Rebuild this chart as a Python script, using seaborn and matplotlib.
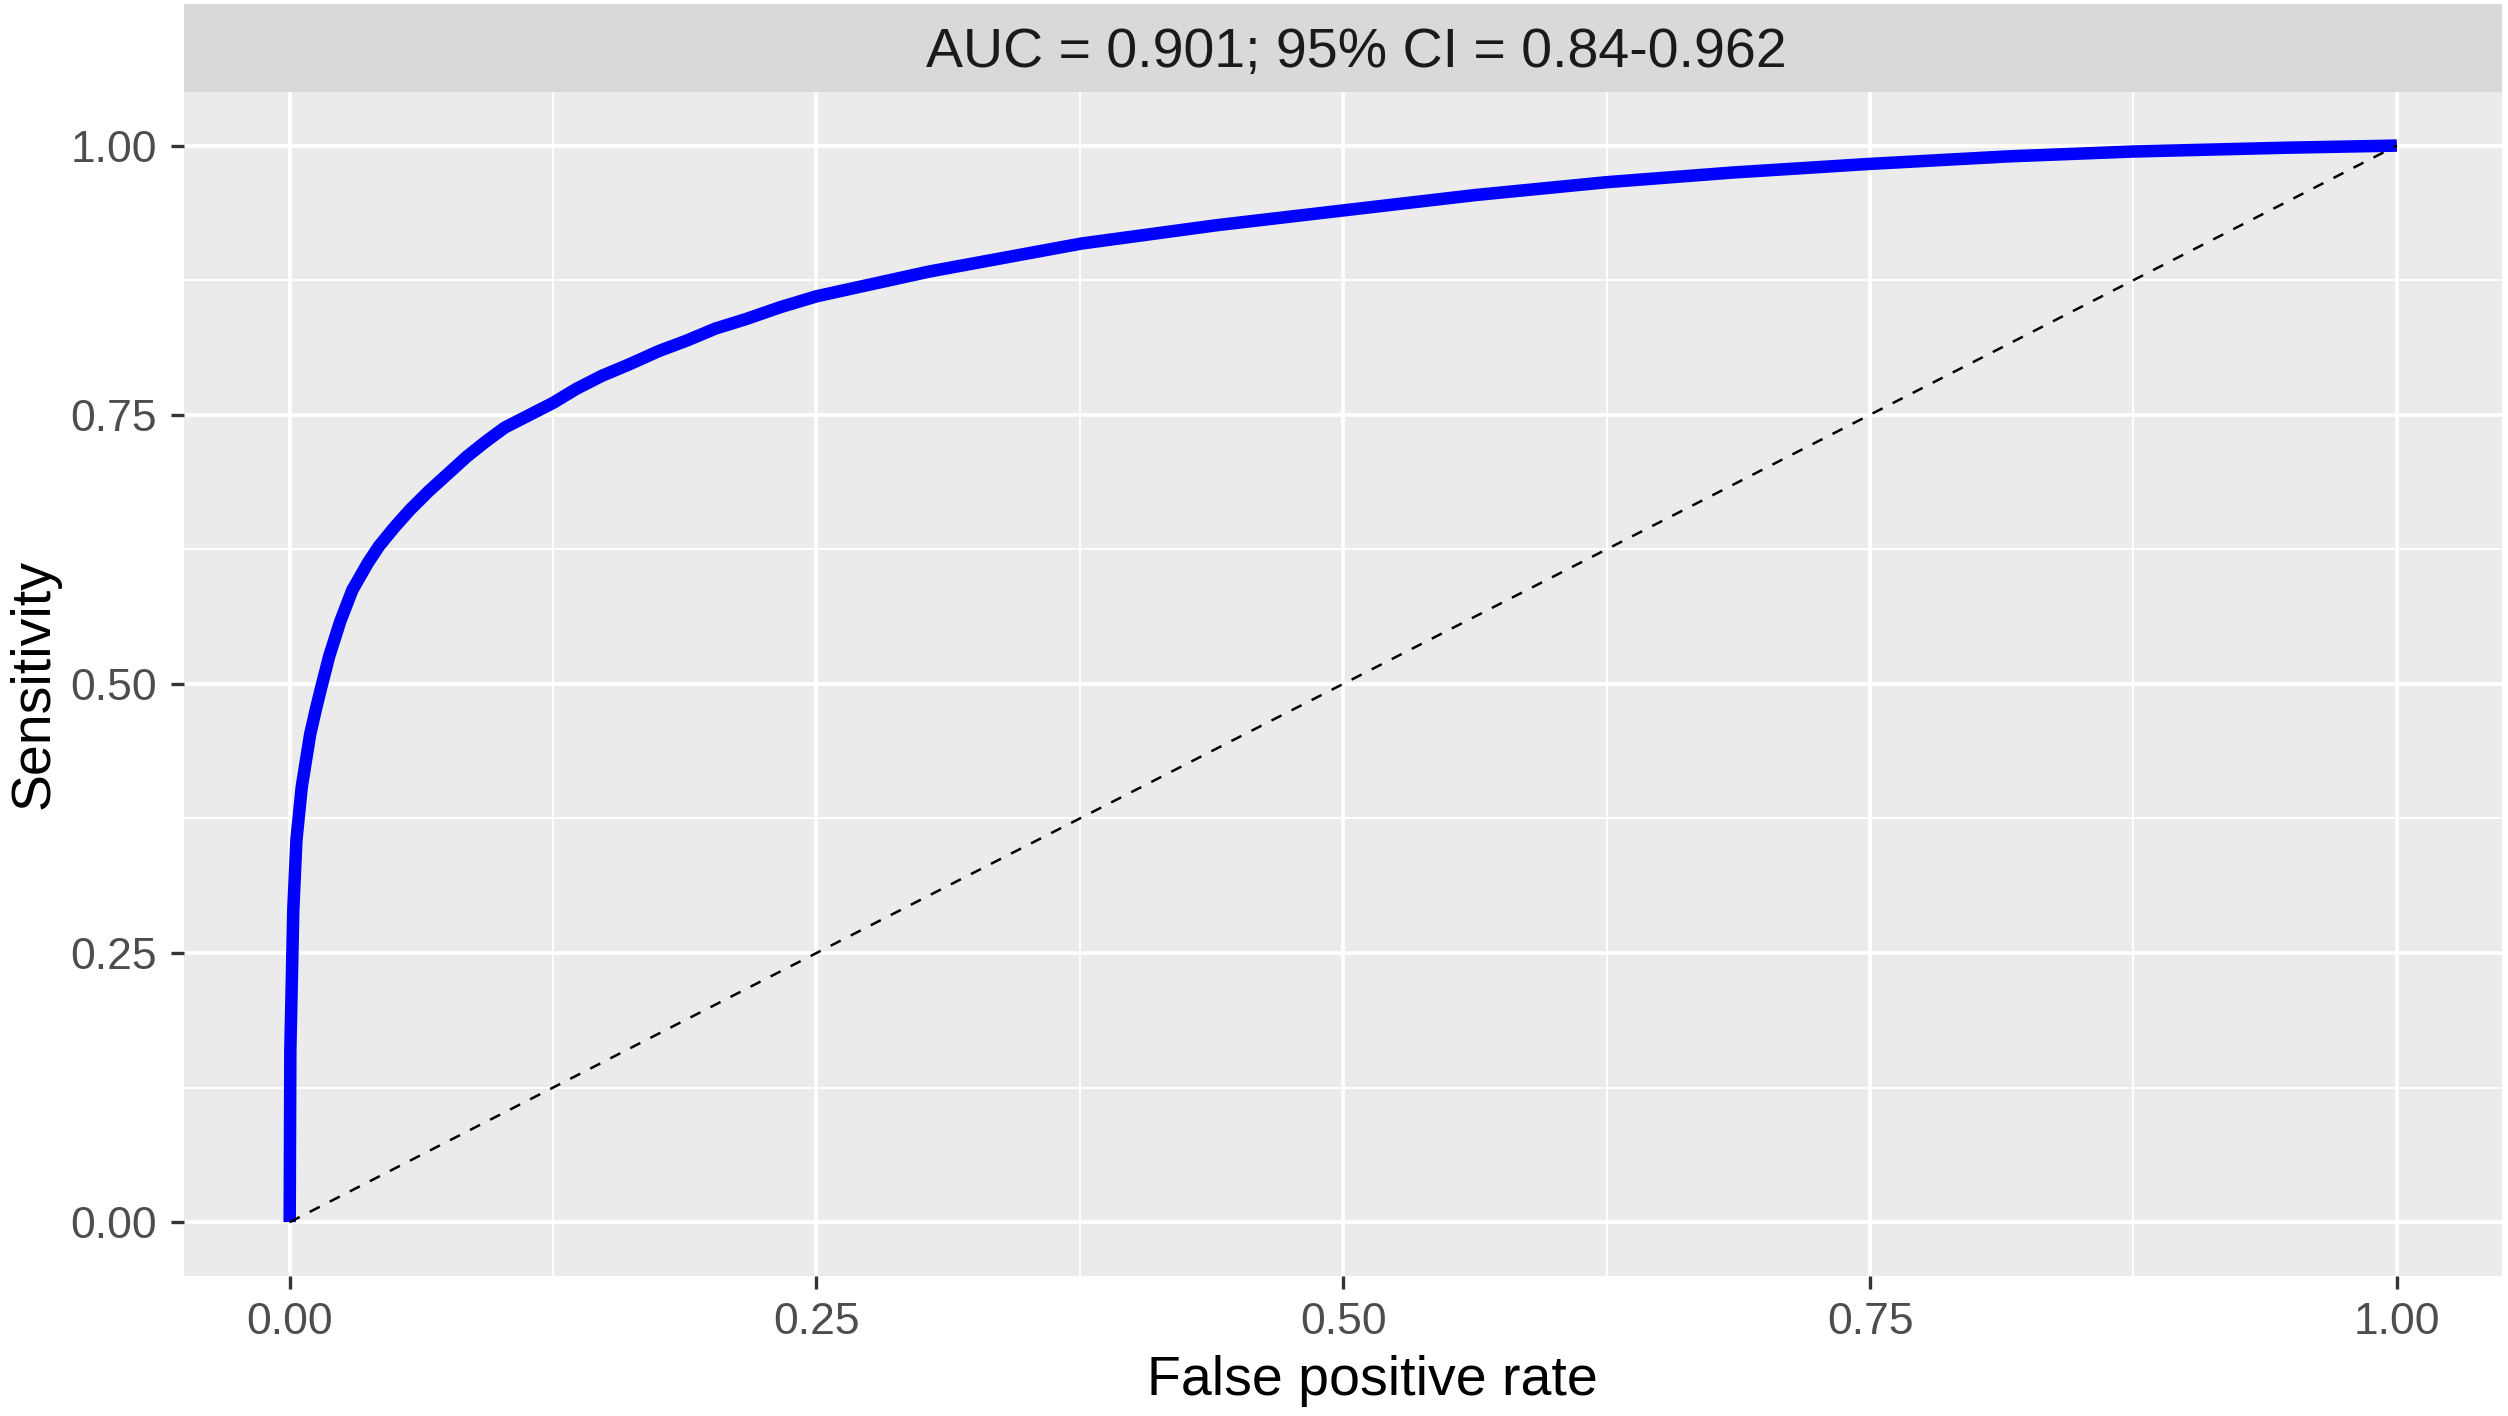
import matplotlib
matplotlib.use("Agg")
import matplotlib.pyplot as plt
import seaborn as sns
import numpy as np

# ROC curve points
fpr = [0, 0.0003, 0.001, 0.0017, 0.0032, 0.0057, 0.0097, 0.0125, 0.015,
       0.0188, 0.024, 0.0297, 0.037, 0.0424, 0.0495, 0.057, 0.066, 0.075,
       0.084, 0.093, 0.102, 0.125, 0.136, 0.148, 0.1614, 0.175, 0.1886,
       0.202, 0.2168, 0.233, 0.25, 0.3035, 0.3757, 0.4398, 0.501, 0.5624,
       0.625, 0.685, 0.75, 0.816, 0.875, 0.947, 1.0]
tpr = [0, 0.159, 0.224, 0.29, 0.355, 0.404, 0.453, 0.477, 0.497,
       0.526, 0.558, 0.587, 0.612, 0.628, 0.645, 0.6615, 0.679, 0.695,
       0.711, 0.725, 0.738, 0.761, 0.774, 0.786, 0.797, 0.809, 0.819,
       0.830, 0.839, 0.850, 0.860, 0.883, 0.909, 0.926, 0.940, 0.954,
       0.966, 0.975, 0.983, 0.990, 0.9945, 0.998, 1.0]
diag = [0, 1]

major_ticks = [0, 0.25, 0.5, 0.75, 1.0]
minor_ticks = [0.125, 0.375, 0.625, 0.875]
tick_labels = ["0.00", "0.25", "0.50", "0.75", "1.00"]
strip_title = "AUC = 0.901; 95% CI = 0.84-0.962"

sns.set_theme(style="darkgrid", rc={"axes.facecolor": "#EBEBEB",
                                    "grid.color": "white"})
plt.rcParams["font.family"] = ["Liberation Sans", "DejaVu Sans"]

fig = plt.figure(figsize=(25.08, 14.16), dpi=100)
ax = fig.add_axes([0.0735, 0.0989, 0.9242, 0.8363])

# main curve and chance diagonal
sns.lineplot(x=fpr, y=tpr, ax=ax, color="#0000FF", linewidth=9,
             estimator=None, sort=False, solid_capstyle="butt",
             solid_joinstyle="round", zorder=3)
sns.lineplot(x=diag, y=diag, ax=ax, color="black", linewidth=1.8,
             linestyle=(0, (4.5, 4.5)), estimator=None, zorder=4)

ax.set_xlim(-0.05, 1.05)
ax.set_ylim(-0.05, 1.05)
ax.set_xticks(major_ticks)
ax.set_yticks(major_ticks)
ax.set_xticklabels(tick_labels)
ax.set_yticklabels(tick_labels)
ax.set_xticks(minor_ticks, minor=True)
ax.set_yticks(minor_ticks, minor=True)
ax.grid(which="major", color="white", linewidth=2.7)
ax.grid(which="minor", color="white", linewidth=1.4)
ax.set_axisbelow(True)
for s in ax.spines.values():
    s.set_visible(False)

ax.tick_params(which="major", length=9.4, width=2.4, color="#333333",
               labelsize=32, labelcolor="#4D4D4D",
               bottom=True, left=True)
ax.tick_params(axis="x", which="major", pad=9)
ax.tick_params(axis="y", which="major", pad=10.5)
ax.tick_params(which="minor", length=0)

ax.set_xlabel("False positive rate", fontsize=40, color="black")
ax.set_ylabel("Sensitivity", fontsize=40, color="black")
ax.xaxis.label.set_va("baseline")
ax.xaxis.set_label_coords(0.5124, -0.1005)
ax.yaxis.label.set_va("baseline")
ax.yaxis.set_label_coords(-0.0588, 0.5)

# facet-style strip on top
strip = fig.add_axes([0.0735, 0.9352, 0.9242, 0.0620])
strip.set_facecolor("#D9D9D9")
strip.set_xticks([])
strip.set_yticks([])
strip.grid(False)
for s in strip.spines.values():
    s.set_visible(False)
strip.text(0.5055, 0.282, strip_title, ha="center", va="baseline",
           fontsize=40, color="#1A1A1A", transform=strip.transAxes)

fig.savefig("out.png", dpi=100, facecolor="white")
